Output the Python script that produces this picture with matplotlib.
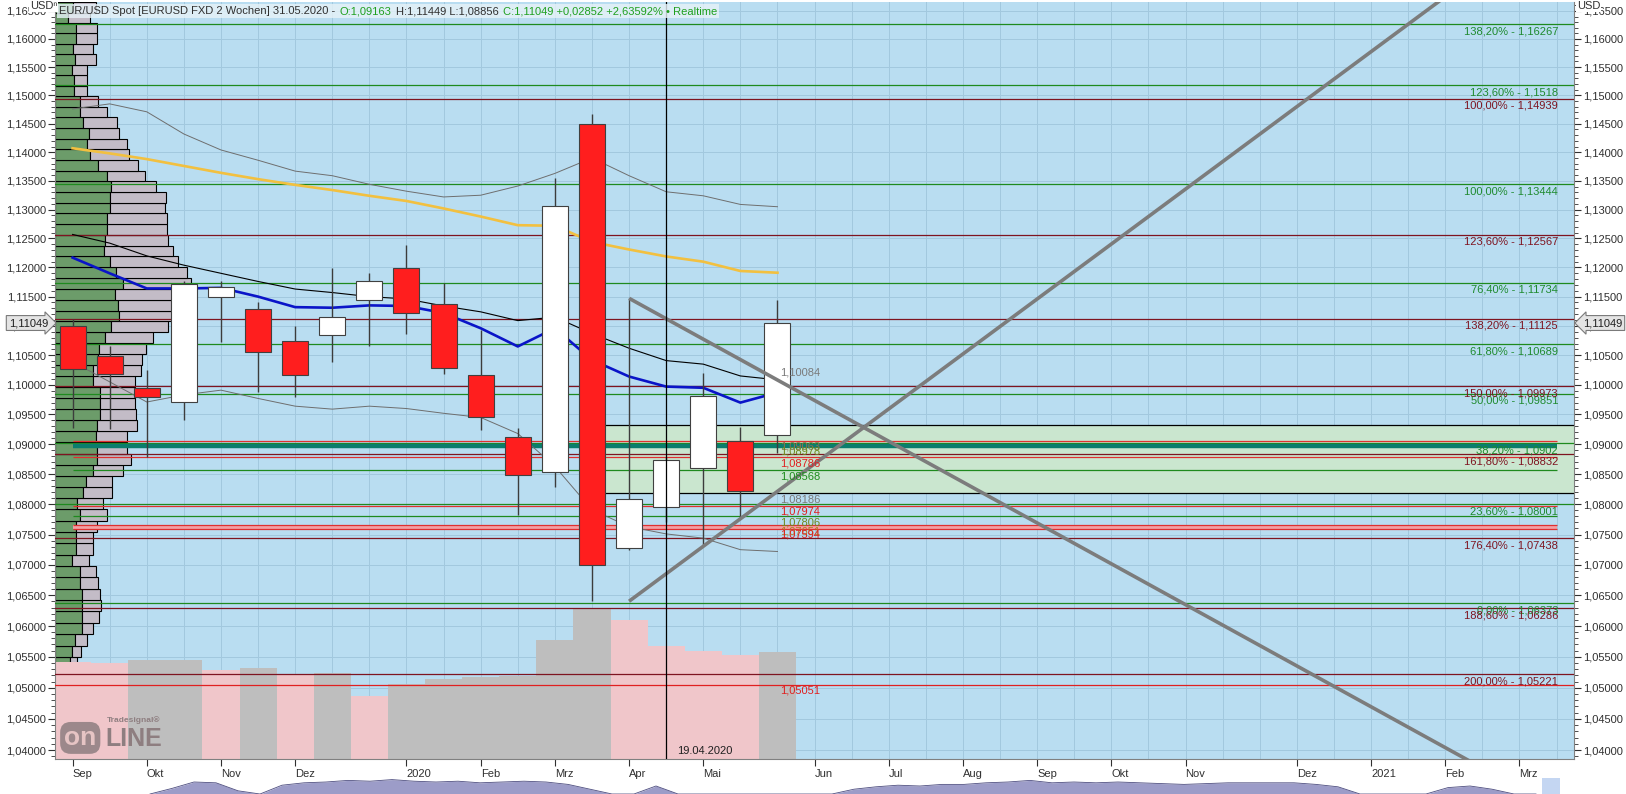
import matplotlib
matplotlib.use("Agg")
import matplotlib.pyplot as plt
import matplotlib.transforms as mtransforms
from matplotlib.patches import Rectangle
from matplotlib.ticker import FixedLocator, FuncFormatter, NullFormatter, MultipleLocator
from matplotlib.offsetbox import TextArea, HPacker, AnchoredOffsetbox
import numpy as np

plt.rcParams['font.family'] = ['Liberation Sans', 'DejaVu Sans']

# EUR/USD, 2-week candles (Sep 2019 - May 2020)
opens = [1.1100, 1.1049, 1.0994, 1.0971, 1.1149, 1.1128, 1.1075, 1.1084, 1.1144, 1.1199,
         1.1137, 1.1017, 1.0912, 1.0854, 1.1449, 1.0727, 1.0796, 1.0861, 1.0906, 1.09163]
highs = [1.1112, 1.1065, 1.1025, 1.1176, 1.1177, 1.1141, 1.1099, 1.1199, 1.1190, 1.1239,
         1.1173, 1.1093, 1.0927, 1.1355, 1.1467, 1.1147, 1.0879, 1.1020, 1.0929, 1.11449]
lows = [1.0927, 1.0926, 1.0879, 1.0941, 1.1073, 1.0988, 1.0980, 1.1039, 1.1066, 1.1086,
        1.1019, 1.0924, 1.0782, 1.0828, 1.0640, 1.0724, 1.0770, 1.0731, 1.0777, 1.08856]
closes = [1.1026, 1.1019, 1.0979, 1.1171, 1.1166, 1.1055, 1.1016, 1.1116, 1.1176, 1.1122,
          1.1028, 1.0946, 1.0849, 1.1306, 1.0700, 1.0809, 1.0873, 1.0981, 1.0822, 1.11049]
volume = [97, 96, 99, 99.5, 89.5, 91, 84, 86, 63.5, 75,
          80, 82, 83, 119.4, 150.5, 139, 113, 108, 104, 107]

ma_black = [1.1257, 1.1242, 1.1220, 1.1204, 1.1190, 1.1176, 1.1163, 1.1157, 1.1150, 1.1146,
            1.1134, 1.1124, 1.1109, 1.1115, 1.1087, 1.1062, 1.1041, 1.1035, 1.1015, 1.10084]
ma_blue = [1.1217, 1.1190, 1.1164, 1.1164, 1.1165, 1.1150, 1.1132, 1.1131, 1.1135, 1.1134,
           1.1122, 1.1096, 1.1065, 1.1096, 1.1042, 1.1014, 1.0997, 1.0995, 1.0970, 1.0987]
ma_yellow = [1.1407, 1.1398, 1.1388, 1.1376, 1.1364, 1.1353, 1.1343, 1.1334, 1.1324, 1.1315,
             1.1302, 1.1288, 1.1273, 1.1272, 1.1244, 1.1231, 1.1219, 1.1210, 1.1194, 1.1191]
band_upper = [1.1476, 1.1485, 1.1471, 1.1432, 1.1404, 1.1386, 1.1367, 1.1359, 1.1344, 1.1332,
              1.1322, 1.1325, 1.1341, 1.1363, 1.1390, 1.1359, 1.1331, 1.1324, 1.1309, 1.1305]
band_lower = [1.1039, 1.1005, 1.0971, 1.0983, 1.0991, 1.0977, 1.0964, 1.0959, 1.0964, 1.0960,
              1.0952, 1.0945, 1.0918, 1.0863, 1.0791, 1.0763, 1.0751, 1.0744, 1.0725, 1.0722]

# volume profile (bins from 1,0531 upward, 0,00186 wide)
profile_bin0 = 1.0531
profile_step = 0.00186
profile_buy = [15, 17, 20, 27, 27, 27, 27, 25, 25, 17, 21, 21, 21, 25, 22, 28, 31, 38, 42, 42,
               41, 42, 45, 45, 45, 38, 38, 43, 44, 50, 56, 64, 63, 60, 68, 61, 55, 49, 50, 52,
               52, 55, 55, 56, 52, 43, 35, 32, 34, 28, 25, 25, 19, 19, 17, 20, 18, 21, 21, 13, 18]
profile_total = [22, 26, 32, 38, 44, 46, 45, 43, 41, 34, 38, 38, 42, 52, 48, 57, 57, 68, 76, 72,
                 72, 82, 81, 80, 80, 80, 86, 87, 91, 98, 113, 123, 125, 121, 136, 132, 123, 118, 113, 112,
                 112, 110, 111, 101, 90, 83, 74, 72, 64, 62, 52, 43, 32, 32, 32, 41, 38, 42, 42, 35, 41]

# fibonacci levels
fib_green = [1.16267, 1.1518, 1.13444, 1.11734, 1.10689, 1.09851, 1.0902, 1.08001, 1.06373]
fib_green_txt = ["138,20% - 1,16267", "123,60% - 1,1518", "100,00% - 1,13444", "76,40% - 1,11734",
                 "61,80% - 1,10689", "50,00% - 1,09851", "38,20% - 1,0902", "23,60% - 1,08001",
                 "0,00% - 1,06373"]
fib_red = [1.14939, 1.12567, 1.11125, 1.09973, 1.08832, 1.07438, 1.06286, 1.05221]
fib_red_txt = ["100,00% - 1,14939", "123,60% - 1,12567", "138,20% - 1,11125", "150,00% - 1,09973",
               "161,80% - 1,08832", "176,40% - 1,07438", "188,60% - 1,06286", "200,00% - 1,05221"]

short_red = [1.09063, 1.08786, 1.07974, 1.07651, 1.07594]
short_green = [1.08568, 1.07806]
teal_level = 1.08978
side_levels = [1.09063, 1.08978, 1.08786, 1.08568, 1.08186, 1.07974, 1.07806, 1.07651, 1.07594, 1.05051]
side_colors = ['#8A7050', '#6E8A1E', '#E02020', '#1E8C1E', '#7A7A7A',
               '#E02020', '#6E8A1E', '#B07A20', '#E02020', '#E02020']
zone_low, zone_high = 1.08186, 1.0932
red_extra = 1.05051

month_pos = [0, 2, 4, 6, 9, 11, 13, 15, 17, 20, 22, 24, 26, 28, 30, 33, 35, 37, 39]
month_txt = ["Sep", "Okt", "Nov", "Dez", "2020", "Feb", "Mrz", "Apr", "Mai", "Jun", "Jul",
             "Aug", "Sep", "Okt", "Nov", "Dez", "2021", "Feb", "Mrz"]

nav = [0, 0.35, 0.75, 0.7, 0.2, 0, 0.55, 0.7, 0.75, 0.85, 0.8, 0.9, 0.8, 0.75, 0.8, 0.7,
       0.75, 0.8, 0.75, 0.6, 0.3, 0, 0, 0.5, 0, 0, 0, 0, 0, 0, 0, 0, 0.3, 0.45, 0.55, 0.5,
       0.6, 0.6, 0.7, 0.75, 0.85, 0.7, 0.75, 0.7, 0.75, 0.7, 0.65, 0.6, 0.65, 0.7, 0.7, 0.7,
       0.7, 0.6, 0.45, 0, 0, 0, 0, 0.4, 0.5, 0.3, 0, 0]

W, H = 1626, 794
fig = plt.figure(figsize=(W / 100, H / 100), dpi=100)
ax = fig.add_axes([55 / W, 1 - 759 / H, (1574 - 55) / W, (759 - 2) / H])
ax.set_facecolor('#B9DDF1')
ax.set_yscale('log')


def px(dx, dy):
    return mtransforms.ScaledTranslation(dx / 100, dy / 100, fig.dpi_scale_trans)


fmt = FuncFormatter(lambda v, _: f"{v:.5f}".replace(".", ","))
ax.yaxis.set_major_locator(FixedLocator(np.arange(1.040, 1.1651, 0.005)))
ax.yaxis.set_minor_locator(FixedLocator(np.arange(1.039, 1.1661, 0.001)))
ax.yaxis.set_major_formatter(fmt)
ax.yaxis.set_minor_formatter(NullFormatter())
ax.set_xticks(month_pos)
ax.set_xticklabels(month_txt, ha='left')
for lbl in ax.get_xticklabels():
    lbl.set_transform(lbl.get_transform() + px(3, 0))
ax.xaxis.set_minor_locator(MultipleLocator(1))
ax.tick_params(axis='y', which='both', left=True, right=True, labelleft=True, labelright=True,
               labelsize=8, colors='#303030', direction='out', pad=1.5)
ax.tick_params(axis='y', which='major', length=5)
ax.tick_params(axis='y', which='minor', length=3)
ax.tick_params(axis='x', which='major', length=5, labelsize=8, colors='#303030', pad=2)
ax.tick_params(axis='x', which='minor', length=0)
ax.set_axisbelow(True)
ax.yaxis.grid(True, which='major', color='#A2C8DE', lw=0.7)
ax.xaxis.grid(True, which='both', color='#A2C8DE', lw=0.7)
for s in ['left', 'right', 'bottom']:
    ax.spines[s].set_color('#808080')
ax.spines['top'].set_visible(False)

blend_ax_x = mtransforms.blended_transform_factory(ax.transAxes, ax.transData)
blend_ax_y = mtransforms.blended_transform_factory(ax.transData, ax.transAxes)

# support / resistance zone
ax.add_patch(Rectangle((14, zone_low), 30, zone_high - zone_low, fc='#CAE6CF', ec='black',
                       lw=0.9, zorder=1.2))

# volume at the bottom
vol_scale = 757.0
for i, v in enumerate(volume):
    up = i > 0 and v > volume[i - 1]
    ax.add_patch(Rectangle((i - 0.5, 0), 1, v / vol_scale, transform=blend_ax_y,
                           fc='#BEBEBE' if up else '#F0C6CA', ec='none', zorder=1.5))

# volume profile on the left
prof_scale = 1519.0
for k in range(len(profile_buy)):
    lo = profile_bin0 + profile_step * k
    ax.add_patch(Rectangle((0, lo), profile_buy[k] / prof_scale, profile_step, transform=blend_ax_x,
                           fc='#6C9C6A', ec='black', lw=0.8, zorder=1.4))
    ax.add_patch(Rectangle((profile_buy[k] / prof_scale, lo),
                           (profile_total[k] - profile_buy[k]) / prof_scale, profile_step,
                           transform=blend_ax_x, fc='#C3BCC7', ec='black', lw=0.8, zorder=1.4))

# watermark
ax.text(0.006, 0.012, "on", transform=ax.transAxes, fontsize=19, fontweight='bold', color='#E6C4C4',
        ha='left', va='bottom', zorder=1.6,
        bbox=dict(boxstyle='round,pad=0.15,rounding_size=0.4', fc='#8E7E80', ec='none', alpha=0.85))
ax.text(0.033, 0.010, "LINE", transform=ax.transAxes, fontsize=18, fontweight='bold', color='#8E7E80',
        ha='left', va='bottom', zorder=1.6)
ax.text(0.034, 0.046, "Tradesignal®", transform=ax.transAxes, fontsize=6, fontweight='bold',
        color='#8E7E80', ha='left', va='bottom', zorder=1.6)

# fibonacci lines
for v, t in zip(fib_green, fib_green_txt):
    ax.axhline(v, color='#1E8A1E', lw=0.9, zorder=3)
    ax.text(0.9895, v, t, transform=blend_ax_x + px(0, -2), ha='right', va='top', fontsize=8,
            color='#1E8A2E', zorder=8)
for v, t in zip(fib_red, fib_red_txt):
    ax.axhline(v, color='#7E1420', lw=0.9, zorder=3)
    ax.text(0.9895, v, t, transform=blend_ax_x + px(0, -2), ha='right', va='top', fontsize=8,
            color='#7E1420', zorder=8)
ax.axhline(red_extra, color='#E02020', lw=0.9, zorder=3)
ax.fill_between([0, 40], short_red[-1], short_red[-2], color='#F2A0A4', lw=0, zorder=2.9)
ax.hlines(short_red, 0, 40, color='#E03030', lw=0.9, zorder=3)
ax.hlines(short_green, 0, 40, color='#1E8A1E', lw=0.9, zorder=3)
ax.hlines(teal_level, 0, 40, color='#0B7D6E', lw=3.2, zorder=3.5)

for v, c in zip(side_levels, side_colors):
    ax.text(19, v, f"{v:.5f}".replace(".", ","), transform=ax.transData + px(3, -1),
            ha='left', va='top', fontsize=8, color=c, zorder=8)
ax.text(19, ma_black[-1], f"{ma_black[-1]:.5f}".replace(".", ","), transform=ax.transData + px(3, 2),
        ha='left', va='bottom', fontsize=8, color='#7A7A7A', zorder=8)

# indicators
x = np.arange(len(closes))
ax.plot(x, band_upper, color='#6E6E6E', lw=0.7, zorder=4)
ax.plot(x, band_lower, color='#6E6E6E', lw=0.7, zorder=4)
ax.plot(x, ma_yellow, color='#F2C040', lw=1.9, zorder=4)
ax.plot(x, ma_black, color='black', lw=0.8, zorder=4)
ax.plot(x, ma_blue, color='#0A14C8', lw=1.9, zorder=4.2)

# candles
for i in range(len(closes)):
    o, h, l, c = opens[i], highs[i], lows[i], closes[i]
    ax.vlines(i, l, h, color='#3C3C3C', lw=1, zorder=5)
    ax.add_patch(Rectangle((i - 0.35, min(o, c)), 0.7, abs(c - o),
                           fc='white' if c >= o else '#FF1E1E', ec='#404040', lw=0.8, zorder=5.5))

# trend lines
ax.plot([15, 37.5], [1.06404, 1.17002], color='#7C7C7C', lw=2.6, zorder=6, solid_capstyle='butt')
ax.plot([15, 40.5], [1.11471, 1.02903], color='#7C7C7C', lw=2.6, zorder=6, solid_capstyle='butt')

# date marker
ax.axvline(16, color='black', lw=0.9, zorder=6)
ax.text(16, 0.004, "19.04.2020", transform=blend_ax_y + px(11, 0), ha='left', va='bottom',
        fontsize=8, color='#202020', zorder=8)

ax.set_xlim(-0.474, 40.47)
ax.set_ylim(1.03857, 1.16661)

# last price markers
last = closes[-1]
ax.annotate(f"{last:.5f}".replace(".", ","), xy=(0, last), xycoords=blend_ax_x, xytext=(-7, 0),
            textcoords='offset pixels', ha='right', va='center', fontsize=8, color='#202020',
            annotation_clip=False, zorder=10,
            bbox=dict(boxstyle='rarrow,pad=0.22', fc='#E4E4E4', ec='#7A7A7A', lw=0.8))
ax.annotate(f"{last:.5f}".replace(".", ","), xy=(1, last), xycoords=blend_ax_x, xytext=(9, 0),
            textcoords='offset pixels', ha='left', va='center', fontsize=8, color='#202020',
            annotation_clip=False, zorder=10,
            bbox=dict(boxstyle='larrow,pad=0.22', fc='#E4E4E4', ec='#7A7A7A', lw=0.8))

# header line
parts = [("EUR/USD Spot [EURUSD FXD 2 Wochen] 31.05.2020 -", '#303030'),
         ("O:1,09163", '#1FA01F'),
         ("H:1,11449 L:1,08856", '#303030'),
         ("C:1,11049 +0,02852 +2,63592% • Realtime", '#1FA01F')]
boxes = [TextArea(t, textprops=dict(color=c, fontsize=8)) for t, c in parts]
head = AnchoredOffsetbox(loc='upper left', child=HPacker(children=boxes, pad=0, sep=3),
                         pad=0.15, borderpad=0.15, frameon=True,
                         bbox_to_anchor=(0, 1), bbox_transform=ax.transAxes)
head.patch.set_facecolor('#E8F3F8')
head.patch.set_edgecolor('none')
head.patch.set_alpha(0.8)
head.set_zorder(9)
ax.add_artist(head)

fig.text(30 / W, 1 - 1 / H, "USDⁿ", ha='left', va='top', fontsize=8, color='#303030',
         bbox=dict(boxstyle='square,pad=0.1', fc='white', ec='none'))
fig.text(1577 / W, 1 - 1 / H, "USD", ha='left', va='top', fontsize=8, color='#303030',
         bbox=dict(boxstyle='square,pad=0.1', fc='white', ec='none'))

# navigator strip
nax = fig.add_axes([0, 0, 1, 16 / H])
nx = np.linspace(150, 1536, len(nav))
nax.fill_between(nx, 0, nav, color='#9C9CC8', lw=0)
nax.plot(nx, nav, color='#4E4E80', lw=0.6)
nax.add_patch(Rectangle((1542, 0), 18, 1, fc='#C4D6F2', ec='none'))
nax.set_xlim(0, W)
nax.set_ylim(0, 1)
nax.axis('off')

fig.savefig("out.png", dpi=100)
